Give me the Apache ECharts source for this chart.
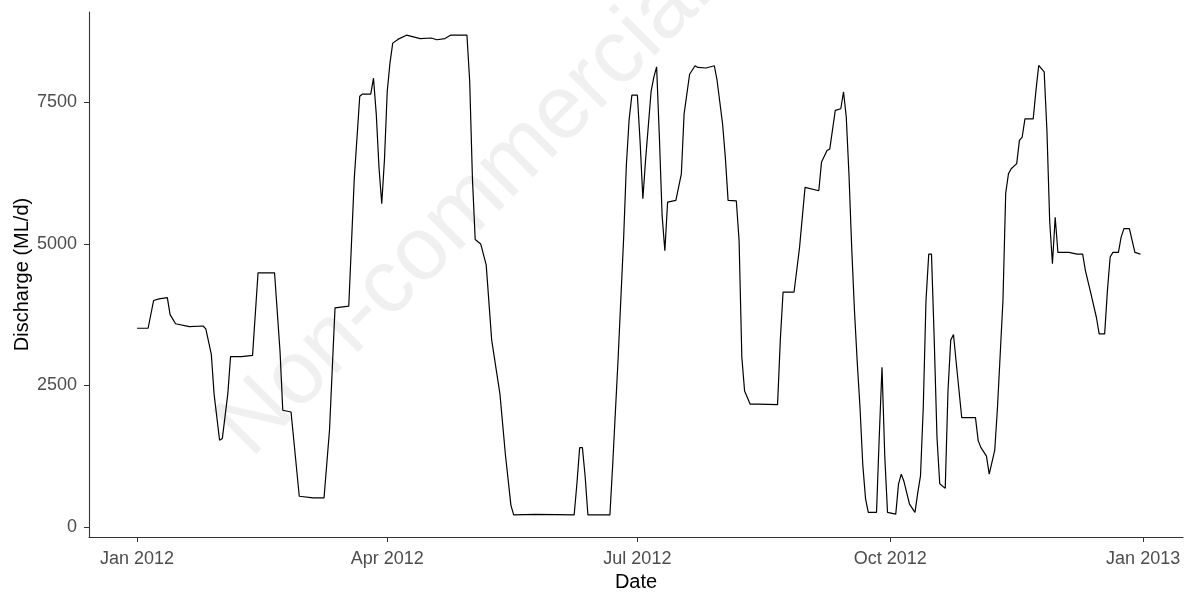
<!DOCTYPE html>
<html>
<head>
<meta charset="utf-8">
<script src="https://cdn.jsdelivr.net/npm/echarts@6/dist/echarts.min.js"></script>
<style>
  html, body { margin: 0; padding: 0; background: #fff; }
  #chart { width: 1192px; height: 594px; }
</style>
</head>
<body>
<div id="chart"></div>
<script>
// daily discharge at its corners
const dates = [
  '2012-01-01','2012-01-05','2012-01-07','2012-01-09','2012-01-12','2012-01-13','2012-01-15','2012-01-20',
  '2012-01-25','2012-01-26','2012-01-28','2012-01-29','2012-01-31','2012-02-01','2012-02-03','2012-02-04',
  '2012-02-08','2012-02-12','2012-02-14','2012-02-20','2012-02-22','2012-02-23','2012-02-26','2012-02-29',
  '2012-03-05','2012-03-09','2012-03-11','2012-03-13','2012-03-18','2012-03-20','2012-03-22','2012-03-23',
  '2012-03-26','2012-03-27','2012-03-28','2012-03-29','2012-03-30','2012-03-31','2012-04-01','2012-04-02',
  '2012-04-03','2012-04-05','2012-04-08','2012-04-13','2012-04-17','2012-04-19','2012-04-22','2012-04-24',
  '2012-04-30','2012-05-01','2012-05-02','2012-05-03','2012-05-05','2012-05-07','2012-05-09','2012-05-12',
  '2012-05-14','2012-05-16','2012-05-17','2012-05-25','2012-06-08','2012-06-09','2012-06-10','2012-06-11',
  '2012-06-12','2012-06-13','2012-06-21','2012-06-22','2012-06-24','2012-06-26','2012-06-27','2012-06-28',
  '2012-06-29','2012-07-01','2012-07-02','2012-07-03','2012-07-04','2012-07-06','2012-07-07','2012-07-08',
  '2012-07-09','2012-07-10','2012-07-11','2012-07-12','2012-07-15','2012-07-17','2012-07-18','2012-07-20',
  '2012-07-22','2012-07-23','2012-07-26','2012-07-29','2012-07-30','2012-08-01','2012-08-02','2012-08-03',
  '2012-08-06','2012-08-07','2012-08-08','2012-08-09','2012-08-11','2012-08-14','2012-08-21','2012-08-22',
  '2012-08-23','2012-08-27','2012-08-29','2012-08-31','2012-09-05','2012-09-06','2012-09-08','2012-09-09',
  '2012-09-11','2012-09-13','2012-09-14','2012-09-15','2012-09-16','2012-09-17','2012-09-18','2012-09-19',
  '2012-09-20','2012-09-21','2012-09-22','2012-09-23','2012-09-26','2012-09-27','2012-09-28','2012-09-29',
  '2012-09-30','2012-10-03','2012-10-04','2012-10-05','2012-10-06','2012-10-08','2012-10-10','2012-10-11',
  '2012-10-12','2012-10-13','2012-10-14','2012-10-15','2012-10-16','2012-10-17','2012-10-18','2012-10-19',
  '2012-10-21','2012-10-22','2012-10-23','2012-10-24','2012-10-25','2012-10-27','2012-11-01','2012-11-02',
  '2012-11-03','2012-11-05','2012-11-06','2012-11-08','2012-11-09','2012-11-11','2012-11-12','2012-11-13',
  '2012-11-14','2012-11-16','2012-11-17','2012-11-18','2012-11-19','2012-11-22','2012-11-23','2012-11-24',
  '2012-11-26','2012-11-27','2012-11-28','2012-11-29','2012-11-30','2012-12-01','2012-12-05','2012-12-08',
  '2012-12-10','2012-12-11','2012-12-13','2012-12-15','2012-12-16','2012-12-18','2012-12-19','2012-12-20',
  '2012-12-21','2012-12-23','2012-12-24','2012-12-25','2012-12-27','2012-12-29','2012-12-31'
];
const discharge = [
  3510,3510,4000,4030,4050,3750,3590,3540,
  3550,3500,3050,2350,1530,1560,2350,3010,
  3010,3030,4490,4490,3100,2060,2030,540,
  510,510,1710,3870,3900,6150,7610,7650,
  7650,7930,7300,6350,5710,6500,7700,8200,
  8550,8620,8690,8630,8640,8610,8630,8690,
  8690,7870,6150,5080,5000,4630,3300,2350,
  1270,380,210,220,210,760,1400,1400,
  890,210,210,1080,2980,5100,6400,7200,
  7630,7630,6800,5800,6500,7700,7950,8130,
  6900,5500,4880,5740,5770,6240,7300,8000,
  8150,8120,8110,8150,7890,7120,6530,5770,
  5760,5060,3000,2400,2170,2170,2160,3300,
  4150,4150,4940,6000,5940,6450,6650,6680,
  7360,7390,7690,7240,6200,4900,3800,2900,
  2100,1100,500,254,254,1600,2820,1250,
  254,224,755,930,800,400,254,600,
  900,2100,4000,4820,4820,3300,1580,760,
  680,2400,3300,3400,2900,1930,1930,1520,
  1400,1250,930,1350,2100,4000,5900,6240,
  6330,6420,6830,6890,7210,7210,7710,8155,
  8040,7000,5400,4650,5470,4850,4850,4820,
  4820,4530,4120,3700,3410,3410,4175,4770,
  4850,4850,5120,5270,5270,4850,4820
];
const tickDates = ['2012-01-01','2012-04-01','2012-07-01','2012-10-01','2013-01-01'];
const tickLabels = ['Jan 2012','Apr 2012','Jul 2012','Oct 2012','Jan 2013'];
const yTicks = [0, 2500, 5000, 7500];

const ts = d => +new Date(d + 'T00:00:00');
const dayMs = 86400000;
const tickTs = tickDates.map(ts);
const seriesData = dates.map((d, i) => [ts(d), discharge[i]]);

const myChart = echarts.init(document.getElementById('chart'));
const font = 'Liberation Sans, Arial, sans-serif';
const option = {
  animation: false,
  textStyle: { fontFamily: font },
  graphic: [{
    type: 'text',
    x: 465,
    y: 210,
    rotation: Math.PI / 4,
    silent: true,
    z: 0,
    style: {
      text: 'Non-commercial',
      fontSize: 90,
      fontFamily: font,
      fill: '#f0f0f0',
      align: 'center',
      verticalAlign: 'middle'
    }
  }],
  grid: { left: 89, right: 9, top: 12, bottom: 57, outerBoundsMode: 'none', containLabel: false },
  xAxis: {
    type: 'value',
    min: tickTs[0] - 17.5 * dayMs,
    max: tickTs[4] + 14.5 * dayMs,
    name: 'Date',
    nameLocation: 'middle',
    nameGap: 35,
    nameMoveOverlap: false,
    nameTextStyle: { fontSize: 20, color: '#000', fontFamily: font },
    axisLine: { onZero: false, lineStyle: { color: '#333', width: 1.1 } },
    axisTick: { show: true, length: 5, customValues: tickTs, lineStyle: { color: '#333' } },
    axisLabel: {
      customValues: tickTs,
      fontSize: 18,
      color: '#4d4d4d',
      margin: 13,
      fontFamily: font,
      formatter: v => {
        const i = tickTs.indexOf(v);
        return i >= 0 ? tickLabels[i] : '';
      }
    },
    splitLine: { show: false }
  },
  yAxis: {
    type: 'value',
    min: -180,
    max: 9100,
    name: 'Discharge (ML/d)',
    nameLocation: 'middle',
    nameGap: 57,
    nameMoveOverlap: false,
    nameTextStyle: { fontSize: 20, color: '#000', fontFamily: font },
    axisLine: { show: true, onZero: false, lineStyle: { color: '#333', width: 1.1 } },
    axisTick: { show: true, length: 5, customValues: yTicks, lineStyle: { color: '#333' } },
    axisLabel: {
      customValues: yTicks,
      fontSize: 18,
      color: '#4d4d4d',
      margin: 12,
      fontFamily: font,
      formatter: v => String(v)
    },
    splitLine: { show: false }
  },
  series: [{
    type: 'line',
    data: seriesData,
    showSymbol: false,
    lineStyle: { color: '#000', width: 1.2 },
    z: 3
  }]
};
myChart.setOption(option);
</script>
</body>
</html>
